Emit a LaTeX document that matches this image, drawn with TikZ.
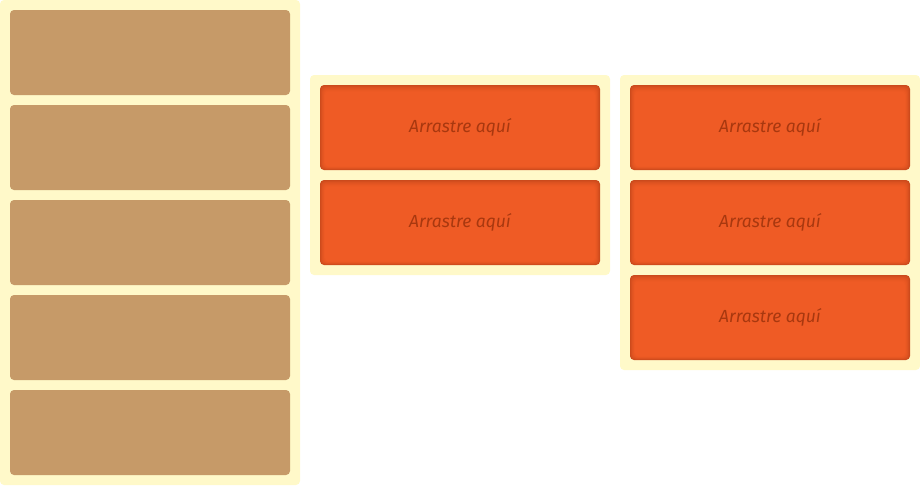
\documentclass[tikz,border=0pt]{standalone}
\usepackage{fontspec}
\setmainfont{Fira Sans}
\definecolor{panelc}{HTML}{FFF9C9}
\definecolor{brownc}{HTML}{C69A68}
\definecolor{orangec}{HTML}{EF5B25}
\definecolor{edgec}{HTML}{CB4A1C}
\definecolor{textc}{HTML}{A8380F}
\tikzset{
  panel/.style={fill=panelc, rounded corners=4pt, draw=none, inner sep=0pt},
  slot/.style={minimum width=280pt, minimum height=85pt, inner sep=0pt, rounded corners=4pt, fill=brownc},
  target/.style={minimum width=280pt, minimum height=85pt, inner sep=0pt, rounded corners=4pt,
    fill=edgec, text=textc, font=\itshape\fontsize{17.5}{21}\selectfont,
    path picture={
      \foreach \i/\c in {1/20,2/40,3/57,4/72,5/84,6/93,7/100}{
        \fill[orangec!\c!edgec, rounded corners=4pt]
          ([shift={(\i*0.7pt,-\i*0.9pt)}]path picture bounding box.north west) rectangle
          ([shift={(-\i*0.7pt,\i*0.5pt)}]path picture bounding box.south east);
      }
    }},
}
\begin{document}
\begin{tikzpicture}[x=1pt,y=-1pt]
\useasboundingbox (0,0) rectangle (920,485);
% panels
\node[panel, minimum width=300pt, minimum height=485pt] (p1) at (150,242.5) {};
\node[panel, minimum width=300pt, minimum height=200pt] (p2) at (460,175) {};
\node[panel, minimum width=300pt, minimum height=295pt] (p3) at (770,222.5) {};
% source slots
\node[slot] (s1) at (150,52.5) {};
\node[slot] (s2) at (150,147.5) {};
\node[slot] (s3) at (150,242.5) {};
\node[slot] (s4) at (150,337.5) {};
\node[slot] (s5) at (150,432.5) {};
% targets
\node[target] (a1) at (460,127.5) {Arrastre aquí};
\node[target] (a2) at (460,222.5) {Arrastre aquí};
\node[target] (b1) at (770,127.5) {Arrastre aquí};
\node[target] (b2) at (770,222.5) {Arrastre aquí};
\node[target] (b3) at (770,317.5) {Arrastre aquí};
\end{tikzpicture}
\end{document}
